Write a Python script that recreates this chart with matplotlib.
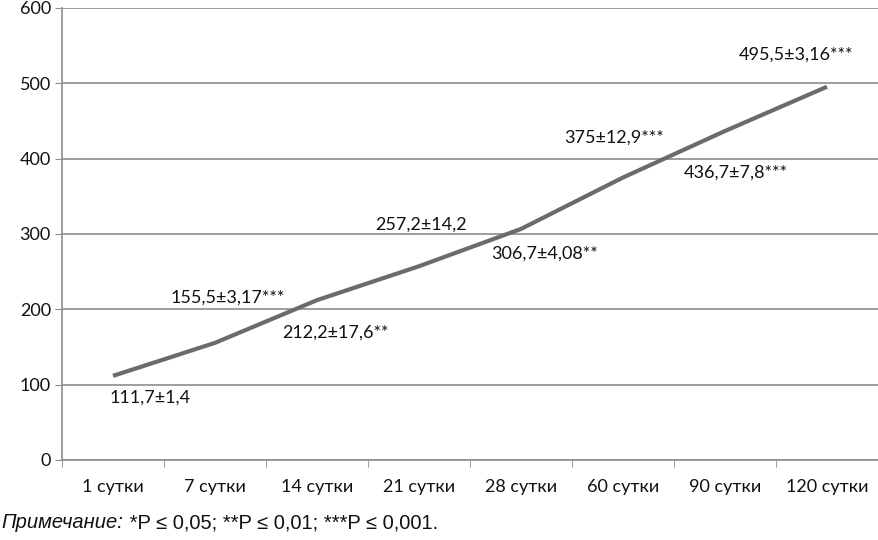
import numpy as np
import matplotlib
matplotlib.use("Agg")
import matplotlib.pyplot as plt

# data
days = ["1 сутки", "7 сутки", "14 сутки", "21 сутки", "28 сутки", "60 сутки", "90 сутки", "120 сутки"]
values = [111.7, 155.5, 212.2, 257.2, 306.7, 375.0, 436.7, 495.5]
labels = ["111,7±1,4", "155,5±3,17***", "212,2±17,6**", "257,2±14,2",
          "306,7±4,08**", "375±12,9***", "436,7±7,8***", "495,5±3,16***"]
note_head = "Примечание:"
note_rest = " *P ≤ 0,05; **P ≤ 0,01; ***P ≤ 0,001."

# label offsets in pixels from each point (picked by eye)
offsets = [(37, -22), (13, 45), (18, -32), (2, 42), (24, -25), (-9, 40), (11, -42), (-31, 32)]

lab_font = ["Lato", "Open Sans", "DejaVu Sans"]
note_font = ["Liberation Sans Narrow", "Liberation Sans", "DejaVu Sans"]
grid_c = "#8c8c8c"
fs = 13

fig = plt.figure(figsize=(8.79, 5.40), dpi=100)
ax = fig.add_axes([62 / 879, 80 / 540, 816 / 879, 452 / 540])

x = np.arange(len(days))
ax.plot(x, values, color="#6b6b6b", lw=3.0, solid_capstyle="butt", zorder=3)

for xi, v, lab, (dx, dy) in zip(x, values, labels, offsets):
    ax.annotate(lab, (xi, v), xytext=(dx, dy), textcoords="offset pixels",
                ha="center", va="center", fontsize=fs, family=lab_font, color="#111111")

ax.set_xlim(-0.5, len(days) - 0.5)
ax.set_ylim(0, 600)
ax.set_yticks(np.arange(0, 601, 100))
ax.set_xticks(x)
ax.set_xticklabels(days, family=lab_font, fontsize=fs)
ax.set_xticks(np.arange(-0.5, len(days)), minor=True)
ax.tick_params(axis="x", which="major", length=0, pad=14, colors="#111111")
ax.tick_params(axis="x", which="minor", length=5, direction="out", color=grid_c)
ax.tick_params(axis="y", length=5, direction="out", color=grid_c, pad=3)
for t in ax.get_yticklabels():
    t.set_family(lab_font)
    t.set_fontsize(fs)
    t.set_color("#111111")

ax.yaxis.grid(True, color=grid_c, lw=1.2)
ax.set_axisbelow(True)
for s in ["top", "right"]:
    ax.spines[s].set_visible(False)
ax.spines["left"].set_color(grid_c)
ax.spines["bottom"].set_color(grid_c)
ax.spines["left"].set_linewidth(1.2)
ax.spines["bottom"].set_linewidth(1.2)

t1 = fig.text(0.002, 17 / 540, note_head, fontsize=14.5, style="italic",
              family=note_font, ha="left", va="center", color="#111111")
ax.annotate(note_rest, xy=(1, 0.5), xycoords=t1, ha="left", va="center",
            fontsize=14.5, family=note_font, color="#111111", annotation_clip=False)

fig.savefig("out.png", dpi=100)
